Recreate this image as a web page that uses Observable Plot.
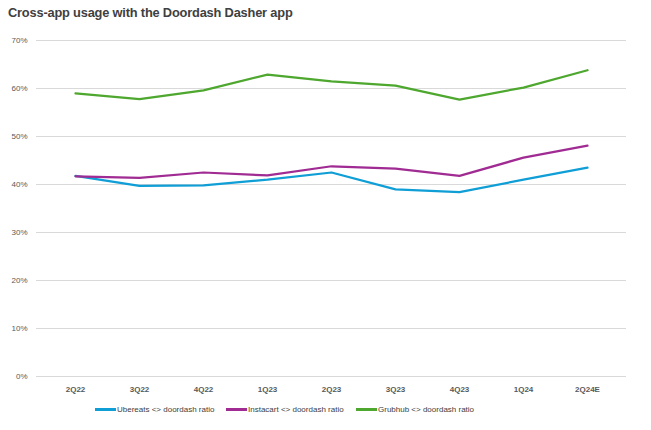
<!DOCTYPE html>
<html>
<head>
<meta charset="utf-8">
<script src="https://cdn.jsdelivr.net/npm/d3@7"></script>
<script src="https://cdn.jsdelivr.net/npm/@observablehq/plot@0.6"></script>
<style>
  body { margin: 0; background: #fff; width: 651px; height: 430px; overflow: hidden; font-family: "Liberation Sans", Arial, sans-serif; }
  #title { position: absolute; left: 8px; top: 5px; font-size: 13.5px; letter-spacing: -0.2px; font-weight: bold; color: #404040; transform: scaleX(0.95); transform-origin: left top; white-space: nowrap; }
  #chart { position: absolute; left: 0; top: 24px; }
  #legend { position: absolute; top: 405px; left: 0; width: 651px; font-size: 8px; color: #404040; }
  .item { position: absolute; display: flex; align-items: center; white-space: nowrap; }
  .sw { width: 21px; height: 3px; margin-right: 1px; }
  #chart svg g[aria-label="x-axis tick label"] text { font-weight: bold; }
</style>
</head>
<body>
<div id="title">Cross-app usage with the Doordash Dasher app</div>
<div id="chart"></div>
<div id="legend"></div>
<script>
const quarters = ["2Q22","3Q22","4Q22","1Q23","2Q23","3Q23","4Q23","1Q24","2Q24E"];
const seriesNames = ["Ubereats <> doordash ratio","Instacart <> doordash ratio","Grubhub <> doordash ratio"];
const seriesColors = ["#0F9ED5","#A02B93","#4EA72E"];
const ubereats  = [0.418, 0.397, 0.398, 0.410, 0.425, 0.390, 0.384, 0.410, 0.435];
const instacart = [0.417, 0.414, 0.425, 0.419, 0.438, 0.433, 0.418, 0.456, 0.481];
const grubhub   = [0.590, 0.578, 0.596, 0.629, 0.615, 0.606, 0.577, 0.602, 0.638];
const yTicks = [0,0.1,0.2,0.3,0.4,0.5,0.6,0.7];

const allSeries = [ubereats, instacart, grubhub];
const data = [];
allSeries.forEach((vals, si) => vals.forEach((v, i) => data.push({q: quarters[i], v, s: seriesNames[si]})));

const chart = Plot.plot({
  width: 651,
  height: 372,
  marginLeft: 36,
  marginRight: 25,
  marginTop: 16,
  marginBottom: 20,
  style: {fontFamily: '"Liberation Sans", Arial, sans-serif', fontSize: "8px", color: "#595959", background: "#fff"},
  x: {type: "band", domain: quarters, label: null, tickSize: 0, tickPadding: 10},
  y: {domain: [0, 0.7], ticks: yTicks, tickFormat: d3.format(".0%"), label: null, tickSize: 0, tickPadding: 9},
  color: {domain: seriesNames, range: seriesColors},
  marks: [
    Plot.ruleY(yTicks, {stroke: "#d9d9d9", strokeWidth: 1}),
    Plot.line(data, {x: "q", y: "v", z: "s", stroke: "s", strokeWidth: 2.25, strokeLinejoin: "round", strokeLinecap: "round"})
  ]
});
document.getElementById("chart").appendChild(chart);

const lefts = [95, 226, 356];
const legend = document.getElementById("legend");
seriesNames.forEach((n, i) => {
  const it = document.createElement("div");
  it.className = "item";
  it.style.left = lefts[i] + "px";
  it.innerHTML = `<span class="sw" style="background:${seriesColors[i]}"></span><span>${n.replace(/</g,"&lt;").replace(/>/g,"&gt;")}</span>`;
  legend.appendChild(it);
});
</script>
</body>
</html>
